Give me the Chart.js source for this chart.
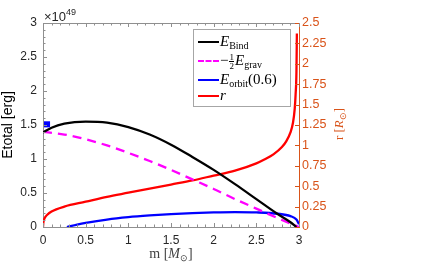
<!DOCTYPE html>
<html><head><meta charset="utf-8">
<script src="https://cdn.jsdelivr.net/npm/chart.js@4/dist/chart.umd.min.js"></script>
<style>
html,body{margin:0;padding:0;background:#fff;}
#wrap{position:relative;width:428px;height:265px;overflow:hidden;}
#c{position:absolute;left:0;top:0;}
.ov{position:absolute;white-space:nowrap;}
#legend{position:absolute;left:193px;top:29px;width:96px;height:76px;border:1px solid #a6a6a6;background:#fff;font-family:"Liberation Serif",serif;font-size:15px;color:#000;}
.row{position:absolute;left:0;height:18px;width:96px;}
.smp{position:absolute;left:4px;width:21px;top:8px;height:0;border-top-width:2.4px;border-top-style:solid;}
.txt{position:absolute;left:26px;top:-1px;line-height:18px;white-space:nowrap;}
.txt sub{font-size:10px;font-style:normal;vertical-align:-3px;line-height:0;}
.frac{display:inline-block;vertical-align:middle;text-align:center;font-size:9px;line-height:8px;margin:0 1px;}
.frac span{display:block;}
.frac .n{border-bottom:0.8px solid #000;}
</style></head>
<body>
<div id="wrap">
<canvas id="c" width="428" height="265"></canvas>
<div class="ov" id="exp" style="left:44px;top:9px;font-family:'Liberation Sans',Arial,sans-serif;font-size:13px;line-height:15px;color:#262626;">×10<sup style="font-size:9px;vertical-align:6px;line-height:0;">49</sup></div>
<div class="ov" id="xtitle" style="left:171px;top:254px;transform:translate(-50%,-50%);font-family:'Liberation Serif',serif;font-size:14px;color:#404040;">m [<i>M</i><sub style="font-size:9px;vertical-align:-3px;line-height:0;">⊙</sub>]</div>
<div class="ov" id="rtitle" style="left:339px;top:124px;transform:translate(-50%,-50%) rotate(-90deg);font-family:'Liberation Serif',serif;font-size:13px;color:#D95319;">r [<i>R</i><sub style="font-size:9px;vertical-align:-3px;line-height:0;">⊙</sub>]</div>
<div id="legend">
  <div class="row" style="top:3px;"><div class="smp" style="border-top-color:#000;"></div><div class="txt"><i>E</i><sub>Bind</sub></div></div>
  <div class="row" style="top:22px;"><div class="smp" style="border-top-color:#ff00ff;border-top-style:dashed;"></div><div class="txt">−<span class="frac"><span class="n">1</span><span>2</span></span><i>E</i><sub>grav</sub></div></div>
  <div class="row" style="top:41px;"><div class="smp" style="border-top-color:#0000ff;"></div><div class="txt"><i>E</i><sub>orbit</sub>(0.6)</div></div>
  <div class="row" style="top:57px;"><div class="smp" style="border-top-color:#ff0000;"></div><div class="txt"><i>r</i></div></div>
</div>
</div>
<script>
// ---- data ----
const bindMass  = [0, 0.1, 0.25, 0.5, 0.75, 1.0, 1.25, 1.5, 1.75, 2.0, 2.25, 2.5, 2.75, 2.9, 2.97];
const bindE     = [1.39, 1.46, 1.52, 1.55, 1.535, 1.47, 1.36, 1.21, 1.03, 0.84, 0.63, 0.41, 0.19, 0.07, 0.0];

const gravMass  = [0, 0.25, 0.5, 0.75, 1.0, 1.25, 1.5, 1.75, 2.0, 2.25, 2.5, 2.75, 3.0];
const gravE     = [1.40, 1.36, 1.29, 1.20, 1.09, 0.97, 0.84, 0.70, 0.56, 0.41, 0.27, 0.13, 0.0];

const orbMass   = [0.28, 0.4, 0.5, 0.75, 1.0, 1.25, 1.5, 1.75, 2.0, 2.25, 2.5, 2.75, 2.9, 2.97, 3.0];
const orbE      = [0.0, 0.035, 0.06, 0.11, 0.145, 0.17, 0.19, 0.205, 0.215, 0.22, 0.215, 0.195, 0.16, 0.11, 0.04];

const rMass     = [0, 0.005, 0.02, 0.05, 0.1, 0.25, 0.5, 0.75, 1.0, 1.25, 1.5, 1.75, 2.0, 2.25, 2.5, 2.6, 2.7, 2.8, 2.85, 2.9, 2.93, 2.95, 2.96, 2.97, 2.975];
const rVal      = [0, 0.06, 0.11, 0.15, 0.19, 0.25, 0.31, 0.37, 0.42, 0.47, 0.52, 0.57, 0.63, 0.69, 0.78, 0.83, 0.89, 0.98, 1.05, 1.16, 1.28, 1.45, 1.62, 1.9, 2.37];

const markMass  = [0.047];
const markE     = [1.51];

const xTicks    = [0, 0.5, 1, 1.5, 2, 2.5, 3];
const yTicks    = [0, 0.5, 1, 1.5, 2, 2.5, 3];
const rTicks    = [0, 0.25, 0.5, 0.75, 1, 1.25, 1.5, 1.75, 2, 2.25, 2.5];

const pts = (xs, ys) => xs.map((x, i) => ({x: x, y: ys[i]}));
const fmt = v => String(+v.toFixed(2));

const AX = '#262626', BOX = '#8f8f8f', ORG = '#D95319';

const boxPlugin = {
  id: 'boxTicks',
  afterDatasetsDraw(chart) {
    const {ctx, chartArea: a, scales} = chart;
    const x = scales.x, y = scales.y, r = scales.y1;
    ctx.save();
    ctx.lineWidth = 1;
    ctx.strokeStyle = BOX;
    ctx.beginPath();
    ctx.moveTo(a.left, a.top + 0.5); ctx.lineTo(a.right, a.top + 0.5);
    ctx.stroke();
    ctx.beginPath();
    for (let i = 0; i <= 30; i++) {
      const v = i / 10, px = Math.round(x.getPixelForValue(v)) + 0.5;
      const L = (i % 5 === 0) ? 4 : 2.5;
      ctx.moveTo(px, a.bottom); ctx.lineTo(px, a.bottom - L);
      ctx.moveTo(px, a.top); ctx.lineTo(px, a.top + L);
      const py = Math.round(y.getPixelForValue(v)) + 0.5;
      ctx.moveTo(a.left, py); ctx.lineTo(a.left + L, py);
    }
    ctx.stroke();
    ctx.strokeStyle = ORG;
    ctx.beginPath();
    rTicks.forEach(v => {
      const py = Math.round(r.getPixelForValue(v)) + 0.5;
      ctx.moveTo(a.right, py); ctx.lineTo(a.right - 4, py);
    });
    ctx.stroke();
    ctx.restore();
  }
};

new Chart(document.getElementById('c'), {
  type: 'line',
  data: {
    datasets: [
      {label: 'r', data: pts(rMass, rVal), yAxisID: 'y1', borderColor: '#ff0000', borderWidth: 2.3, pointRadius: 0, cubicInterpolationMode: 'monotone', order: 4},
      {label: 'E_orbit(0.6)', data: pts(orbMass, orbE), yAxisID: 'y', borderColor: '#0000ff', borderWidth: 2.3, pointRadius: 0, cubicInterpolationMode: 'monotone', order: 3},
      {label: '-1/2 E_grav', data: pts(gravMass, gravE), yAxisID: 'y', borderColor: '#ff00ff', borderWidth: 2.3, borderDash: [9, 6], pointRadius: 0, cubicInterpolationMode: 'monotone', order: 2},
      {label: 'E_Bind', data: pts(bindMass, bindE), yAxisID: 'y', borderColor: '#000000', borderWidth: 2.3, pointRadius: 0, cubicInterpolationMode: 'monotone', order: 1},
      {type: 'scatter', label: 'marker', data: pts(markMass, markE), yAxisID: 'y', backgroundColor: '#0000ff', borderColor: '#0000ff', pointStyle: 'rect', pointRadius: 4.3, borderWidth: 0, order: 0}
    ]
  },
  options: {
    responsive: false,
    animation: false,
    devicePixelRatio: 1,
    layout: {padding: {top: 23, right: 0, left: 0, bottom: 0}},
    plugins: {legend: {display: false}, tooltip: {enabled: false}},
    scales: {
      x: {
        type: 'linear', min: 0, max: 3,
        afterBuildTicks: s => { s.ticks = xTicks.map(v => ({value: v})); },
        afterFit: s => { s.height = 38; },
        grid: {display: false, drawTicks: false},
        border: {display: true, color: BOX, width: 1},
        ticks: {color: AX, padding: 6, callback: fmt, font: {family: 'Liberation Sans', size: 12}}
      },
      y: {
        type: 'linear', position: 'left', min: 0, max: 3,
        afterBuildTicks: s => { s.ticks = yTicks.map(v => ({value: v})); },
        afterFit: s => { s.width = 43; },
        grid: {display: false, drawTicks: false},
        border: {display: true, color: BOX, width: 1},
        ticks: {color: AX, padding: 6, callback: fmt, font: {family: 'Liberation Sans', size: 12}},
        title: {display: true, text: 'Etotal [erg]', color: '#000', padding: {top: 0, bottom: 2}, font: {family: 'Liberation Sans', size: 14}}
      },
      y1: {
        type: 'linear', position: 'right', min: 0, max: 2.5,
        afterBuildTicks: s => { s.ticks = rTicks.map(v => ({value: v})); },
        afterFit: s => { s.width = 129; },
        grid: {display: false, drawTicks: false},
        border: {display: true, color: ORG, width: 1},
        ticks: {color: ORG, padding: 3, callback: fmt, font: {family: 'Liberation Sans', size: 12.5}}
      }
    }
  },
  plugins: [boxPlugin]
});
</script>
</body></html>
